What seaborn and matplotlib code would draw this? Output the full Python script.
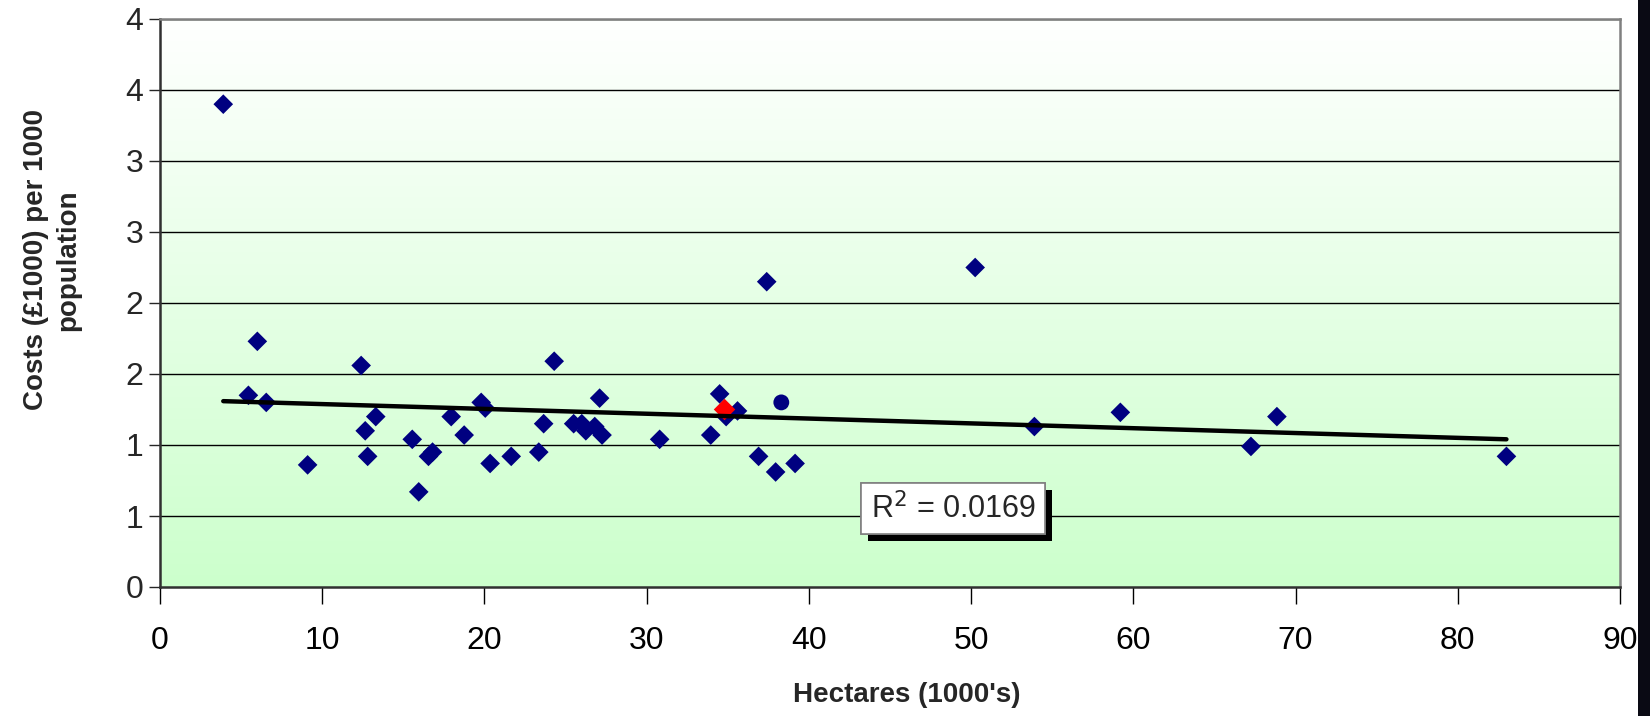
import matplotlib
matplotlib.use("Agg")
import matplotlib.pyplot as plt
import matplotlib.patheffects as pe
import numpy as np
import pandas as pd
import seaborn as sns

# Data
hectares = [3.9, 5.45, 6.0, 6.55, 9.1, 12.4, 12.65, 12.8, 13.3, 15.55, 15.95,
            16.55, 16.8, 17.95, 18.75, 19.8, 20.05, 20.35, 21.65, 23.35, 23.65,
            24.3, 25.5, 26.0, 26.25, 26.8, 27.1, 27.25, 30.8, 33.95, 34.5,
            34.9, 35.6, 36.9, 37.4, 37.95, 39.15, 50.25, 53.9, 59.2, 67.25,
            68.85, 83.0]
costs = [3.40, 1.35, 1.73, 1.30, 0.86, 1.56, 1.10, 0.92, 1.20, 1.04, 0.67,
         0.92, 0.95, 1.20, 1.07, 1.30, 1.26, 0.87, 0.92, 0.95, 1.15, 1.59,
         1.15, 1.15, 1.10, 1.13, 1.33, 1.07, 1.04, 1.07, 1.36, 1.20, 1.24,
         0.92, 2.15, 0.81, 0.87, 2.25, 1.13, 1.23, 0.99, 1.20, 0.92]

# highlighted points
red_x = [34.8]
red_y = [1.25]
circle_x = [38.3]
circle_y = [1.30]

y_ticks = [0, 0.5, 1, 1.5, 2, 2.5, 3, 3.5, 4]
y_tick_labels = ["0", "1", "1", "2", "2", "3", "3", "4", "4"]
x_ticks = [0, 10, 20, 30, 40, 50, 60, 70, 80, 90]
r2_label = "R$^2$ = 0.0169"

df = pd.DataFrame({"hectares": hectares, "costs": costs})
df_all = pd.DataFrame({"hectares": hectares + red_x + circle_x,
                       "costs": costs + red_y + circle_y})

sns.set_style("white")
plt.rcParams["font.family"] = ["Liberation Sans", "DejaVu Sans"]

fig = plt.figure(figsize=(16.5, 7.16), dpi=100)
ax = fig.add_axes([160 / 1650, 1 - 587 / 716, (1620 - 160) / 1650, (587 - 19) / 716])

# background gradient white -> light green
grad = np.linspace(0, 1, 256).reshape(-1, 1)
cmap = matplotlib.colors.LinearSegmentedColormap.from_list("g", ["#FFFFFF", "#CCFFCC"])
ax.imshow(grad, extent=[0, 1, 0, 1], transform=ax.transAxes, aspect="auto",
          cmap=cmap, zorder=0)

for yt in y_ticks[1:]:
    ax.axhline(yt, color="black", lw=1, zorder=1)

sns.scatterplot(data=df, x="hectares", y="costs", marker="D", s=100,
                color="#000080", edgecolor="none", ax=ax, zorder=3)
sns.scatterplot(x=red_x, y=red_y, marker="D", s=120, color="#FF0000",
                edgecolor="none", ax=ax, zorder=3)
sns.scatterplot(x=circle_x, y=circle_y, marker="o", s=130, color="#000080",
                edgecolor="none", ax=ax, zorder=3)
sns.regplot(data=df_all, x="hectares", y="costs", scatter=False, ci=None,
            line_kws={"color": "black", "lw": 3.2, "zorder": 4}, ax=ax)

ax.set_xlim(0, 90)
ax.set_ylim(0, 4)
ax.set_xticks(x_ticks)
ax.set_yticks(y_ticks)
ax.set_yticklabels(y_tick_labels)
ax.tick_params(axis="x", direction="out", length=12, width=1, pad=16,
               labelsize=23, bottom=True, colors="black")
ax.tick_params(axis="y", direction="out", length=8, width=1, pad=4,
               labelsize=23, left=True)

for side in ["left", "bottom"]:
    ax.spines[side].set_color("#303030")
    ax.spines[side].set_linewidth(1.8)
for side in ["top", "right"]:
    ax.spines[side].set_color("#808080")
    ax.spines[side].set_linewidth(1.8)
for sp in ax.spines.values():
    sp.set_zorder(5)

ax.set_xlabel("Hectares (1000's)", fontsize=20, fontweight="bold")
ax.set_ylabel("Costs (£1000) per 1000\npopulation", fontsize=20,
              fontweight="bold", linespacing=1.3)
ax.xaxis.set_label_coords(0.5116, -0.168)
ax.yaxis.set_label_coords(-0.054, 0.576)

txt = ax.text(48.9, 0.55, r2_label, ha="center", va="center", fontsize=22,
              zorder=6,
              bbox=dict(boxstyle="square,pad=0.3", facecolor="white",
                        edgecolor="#808080", lw=1.2))
txt.get_bbox_patch().set_path_effects([
    pe.withSimplePatchShadow(offset=(5, -5), shadow_rgbFace="black", alpha=1.0),
    pe.Normal()])

# dark strip on the right edge of the screenshot
fig.patches.append(matplotlib.patches.Rectangle(
    (1638 / 1650, 0), 12 / 1650, 1, transform=fig.transFigure,
    facecolor="#0a0a14", edgecolor="none"))

fig.savefig("out.png", dpi=100)
